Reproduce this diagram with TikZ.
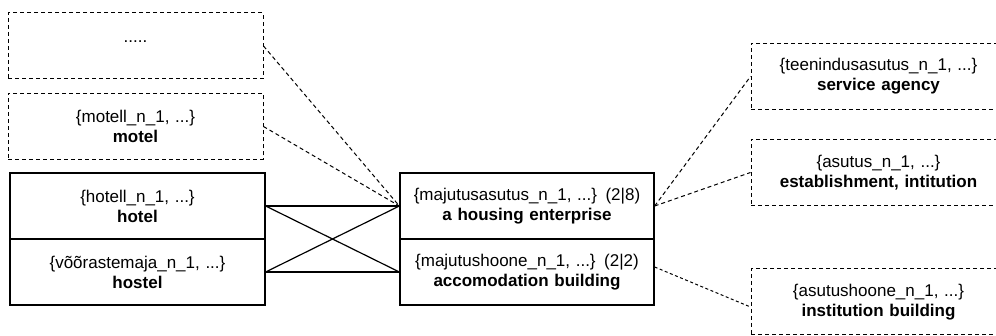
\documentclass[tikz,border=0pt]{standalone}
\usepackage{fontspec}
\setmainfont{Liberation Sans}
\usepackage{tikz}
\tikzstyle{synset} = [rectangle, draw, line width=1.3pt, minimum width=255pt, minimum height=66pt, inner sep=0pt, text width=250pt, align=center, font=\fontsize{17}{20}\selectfont]
\tikzstyle{outer} = [synset, line width=1pt, dash pattern=on 4pt off 3pt]
\tikzstyle{relation} = [line width=1pt, dash pattern=on 4pt off 3pt]
\tikzstyle{weak} = [line width=1pt, dash pattern=on 3pt off 2.5pt]

\begin{document}
\begin{tikzpicture}[x=1pt, y=-1pt]
\useasboundingbox (0,0) rectangle (996,336);
\clip (0,0) rectangle (996,336);
%\draw[help lines] (0,0) grid[step=50] (996,336);
\node[outer] (dots) at (135.5,46) {\strut\raisebox{-3pt}{.....}\\ \strut};
\node[outer] (motel) at (135.5,126.5) {\{motell\_n\_1, ...\}\\ \textbf{motel}};
\node[synset] (hotel) at (137.5,206) {\{hotell\_n\_1, ...\}\\ \textbf{hotel}};
\node[synset] (hostel) at (137.5,272) {\{võõrastemaja\_n\_1, ...\}\\ \textbf{hostel}};
\node[synset, minimum width=254pt] (enterprise) at (527,206) {\{majutusasutus\_n\_1, ...\} (2|8)\\ \textbf{a housing enterprise}};
\node[synset, minimum width=254pt] (building) at (527,272) {\{majutushoone\_n\_1, ...\} (2|2)\\ \textbf{accomodation building}};
\node[outer] (agency) at (878.5,76.5) {\{teenindusasutus\_n\_1, ...\}\\ \textbf{service agency}};
\node[outer] (institution) at (878.5,172.5) {\{asutus\_n\_1, ...\}\\ \textbf{establishment, intitution}};
\node[outer] (instbuilding) at (878.5,302) {\{asutushoone\_n\_1, ...\}\\ \textbf{institution building}};

\draw[line width=1.2pt] (hotel.east) -- (enterprise.west);
\draw[line width=1.2pt] (hotel.east) -- (building.west);
\draw[line width=1.2pt] (hostel.east) -- (enterprise.west);
\draw[line width=1.2pt] (hostel.east) -- (building.west);
\draw[relation] (dots.east) -- (enterprise.west);
\draw[relation] (motel.east) -- (enterprise.west);
\draw[relation] (enterprise.east) -- (agency.west);
\draw[relation] (enterprise.east) -- (institution.west);
\draw[weak] ([yshift=5pt]building.east) -- ([yshift=-5pt]instbuilding.west);
\end{tikzpicture}
\end{document}
